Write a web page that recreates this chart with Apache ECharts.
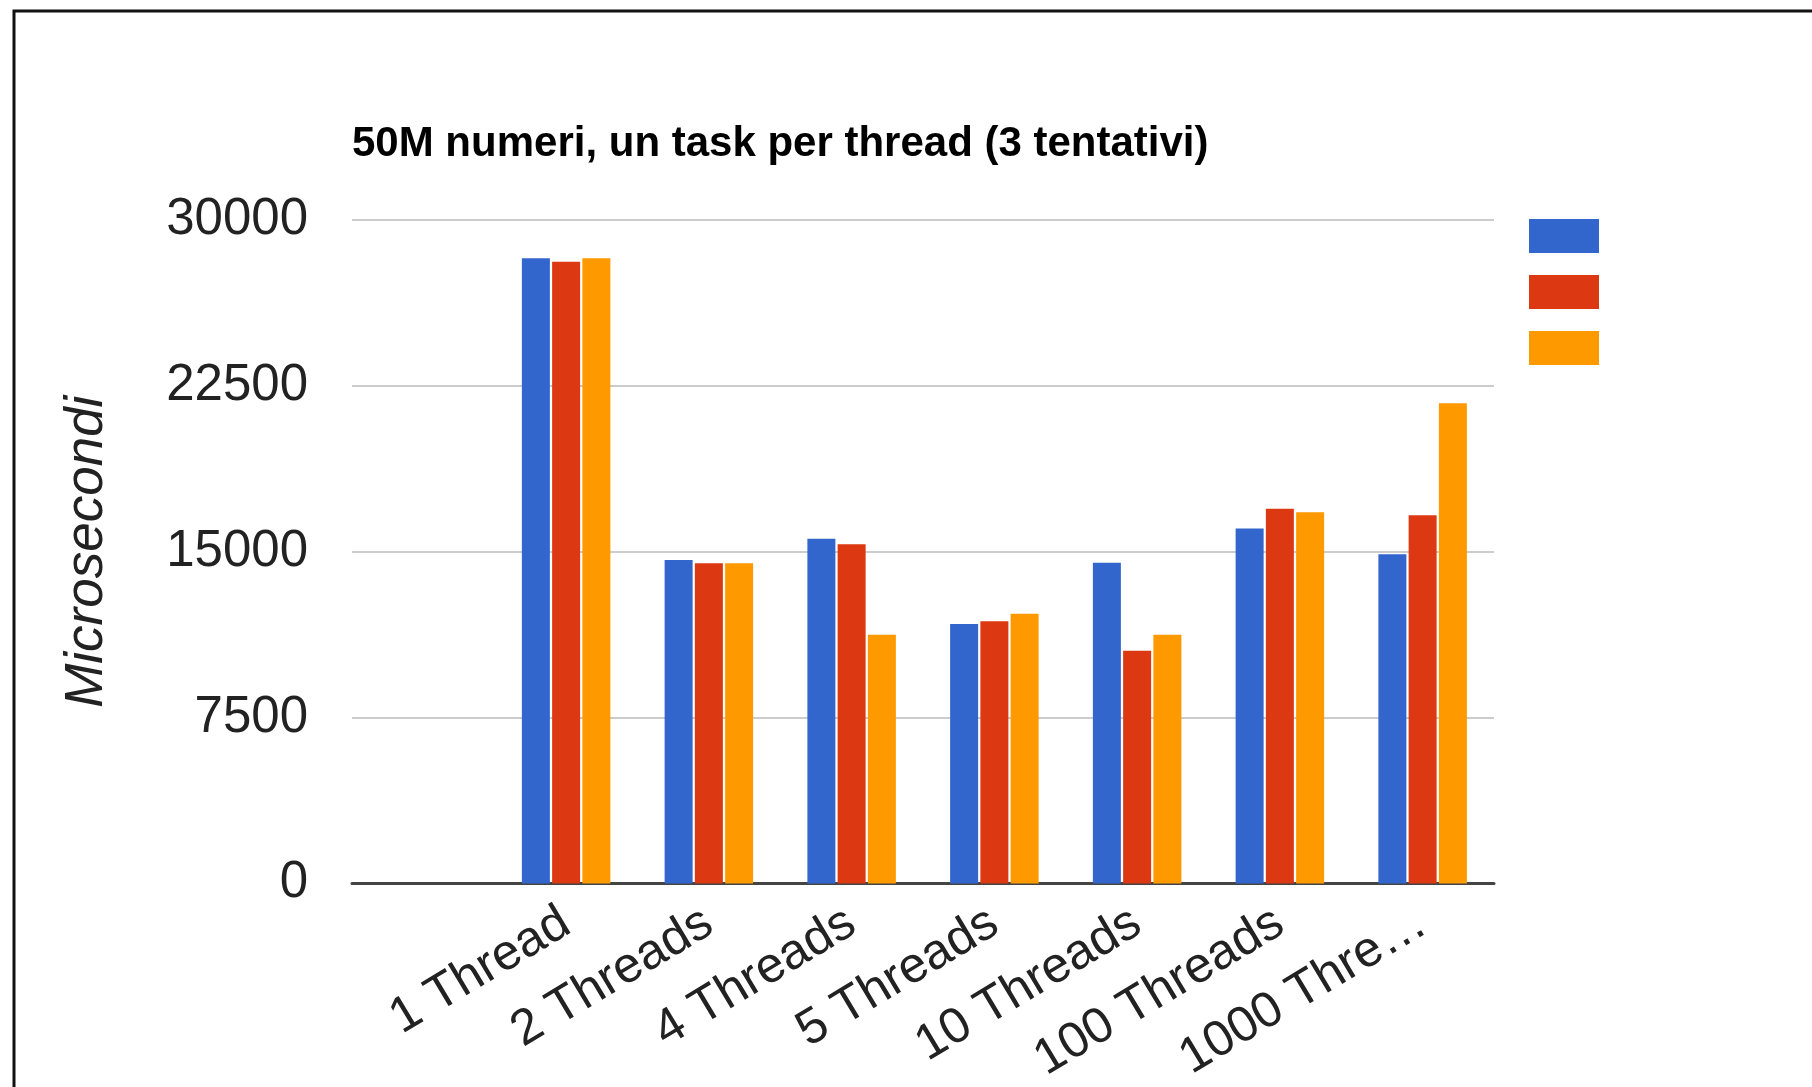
<!DOCTYPE html>
<html>
<head>
<meta charset="utf-8">
<title>50M numeri</title>
<script src="https://cdn.jsdelivr.net/npm/echarts@6/dist/echarts.min.js"></script>
<style>
	html, body { margin: 0; padding: 0; background: #fff; }
	#main { width: 1812px; height: 1087px; }
</style>
</head>
<body>
<div id="main"></div>
<script>
	// categorie (la prima è vuota, come nel grafico originale)
	var categories = ['', '1 Thread', '2 Threads', '4 Threads', '5 Threads', '10 Threads', '100 Threads', '1000 Thre…'];
	// tre tentativi, microsecondi
	var tentativo1 = [null, 28270, 14620, 15590, 11730, 14500, 16050, 14880];
	var tentativo2 = [null, 28110, 14480, 15340, 11860, 10520, 16940, 16650];
	var tentativo3 = [null, 28270, 14480, 11250, 12200, 11250, 16790, 21710];
	var yTicks = [0, 7500, 15000, 22500, 30000];
	var colors = ['#3366cc', '#dc3912', '#ff9900'];

	init();
	function init(){
		var myChart = echarts.init(document.getElementById('main'));
		myChart.setOption(buildOption());
	}

	function buildOption(){
		var font = "'Liberation Sans', Arial, sans-serif";
		return {
			animation: false,
			color: colors,
			title: {
				text: '50M numeri, un task per thread (3 tentativi)',
				left: 347,
				top: 118,
				textStyle: { fontFamily: font, fontSize: 42, fontWeight: 'bold', color: '#000' }
			},
			legend: {
				orient: 'vertical',
				left: 1529,
				top: 219,
				itemWidth: 70,
				itemHeight: 34,
				itemGap: 22,
				padding: 0,
				icon: 'rect',
				formatter: function(){ return ''; },
				data: ['Tentativo 1', 'Tentativo 2', 'Tentativo 3']
			},
			grid: { left: 352, right: 318, top: 220, bottom: 202 },
			xAxis: {
				type: 'category',
				data: categories,
				axisTick: { show: false },
				axisLine: { lineStyle: { color: '#444', width: 3 } },
				axisLabel: {
					interval: 0,
					rotate: 31,
					margin: 36,
					fontFamily: font,
					fontSize: 50,
					color: '#222'
				}
			},
			yAxis: {
				type: 'value',
				min: yTicks[0],
				max: yTicks[yTicks.length - 1],
				interval: yTicks[1] - yTicks[0],
				name: 'Microsecondi',
				nameLocation: 'middle',
				nameGap: 238,
				nameTextStyle: { fontFamily: font, fontSize: 53, fontStyle: 'italic', color: '#222' },
				axisLine: { show: false },
				axisTick: { show: false },
				axisLabel: {
					margin: 44,
					padding: [6, 0, 0, 0],
					fontFamily: font,
					fontSize: 51,
					color: '#222',
					formatter: function(v){ return String(v); }
				},
				splitLine: { lineStyle: { color: '#cccccc', width: 2 } }
			},
			series: [
				{ name: 'Tentativo 1', type: 'bar', barCategoryGap: '38%', barGap: '8%', data: tentativo1 },
				{ name: 'Tentativo 2', type: 'bar', barCategoryGap: '38%', barGap: '8%', data: tentativo2 },
				{ name: 'Tentativo 3', type: 'bar', barCategoryGap: '38%', barGap: '8%', data: tentativo3 }
			],
			// cornice nera (tagliata a destra e in basso)
			graphic: [{
				type: 'rect',
				shape: { x: 14, y: 11, width: 1900, height: 1200 },
				style: { fill: 'none', stroke: '#111', lineWidth: 3 },
				silent: true
			}]
		};
	}
</script>
</body>
</html>
